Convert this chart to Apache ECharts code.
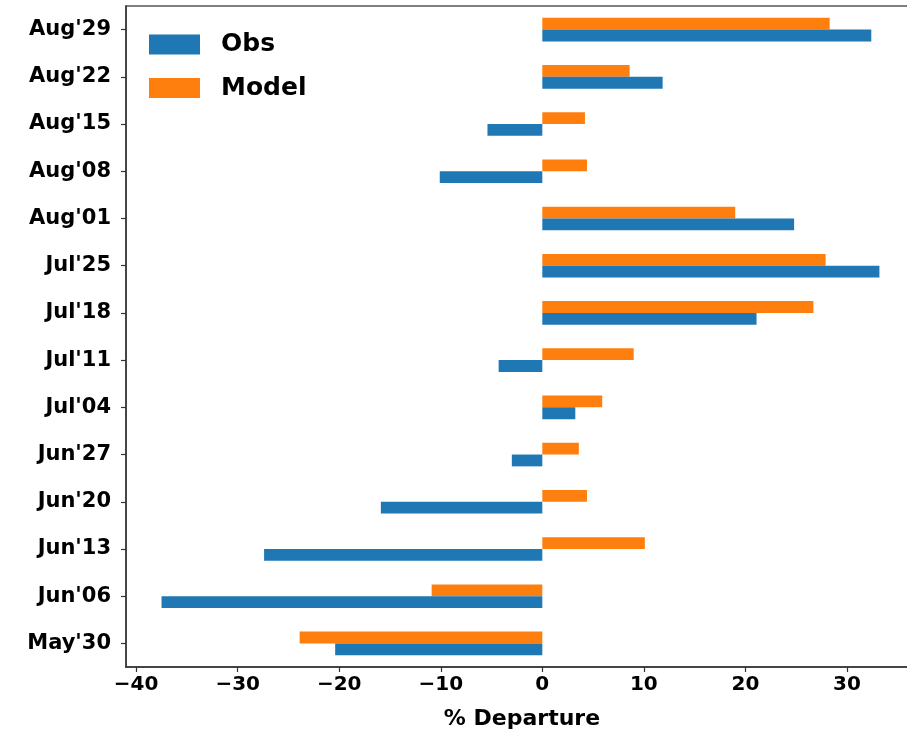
<!DOCTYPE html>
<html>
<head>
<meta charset="utf-8">
<script src="https://cdn.jsdelivr.net/npm/echarts@6/dist/echarts.min.js"></script>
<style>
html,body{margin:0;padding:0;background:#fff;overflow:hidden;width:907px;height:735px;}
#chart{width:930px;height:735px;}
</style>
</head>
<body>
<div id="chart"></div>
<script>
const categories = ["May'30","Jun'06","Jun'13","Jun'20","Jun'27","Jul'04","Jul'11","Jul'18","Jul'25","Aug'01","Aug'08","Aug'15","Aug'22","Aug'29"];
const obsValues = [-20.4,-37.5,-27.4,-15.9,-3.0,3.25,-4.3,21.1,33.2,24.8,-10.1,-5.4,11.85,32.4];
const modelValues = [-23.9,-10.9,10.1,4.4,3.6,5.9,9.0,26.7,27.9,19.0,4.4,4.2,8.6,28.3];
const xTicks = [-40,-30,-20,-10,0,10,20,30];

const font = 'DejaVu Sans';
const chart = echarts.init(document.getElementById('chart'), null, {renderer:'canvas'});
chart.setOption({
  animation:false,
  backgroundColor:'#fff',
  grid:{left:126, top:6, right:12, bottom:68, show:true, borderColor:'#555', borderWidth:1.5, containLabel:false},
  legend:{
    orient:'vertical', left:149, top:32, padding:0,
    data:['Obs','Model'],
    itemWidth:51, itemHeight:20, itemGap:18.5,
    icon:'rect',
    textStyle:{fontFamily:font, fontWeight:'bold', fontSize:25, color:'#000', lineHeight:20, padding:[0,0,0,16]}
  },
  xAxis:{
    type:'value', min:-41, max:37,
    axisLine:{show:true, onZero:false, lineStyle:{color:'#333', width:1.5}},
    axisTick:{show:true, length:5, lineStyle:{color:'#333', width:1.2}, customValues:xTicks},
    axisLabel:{fontFamily:font, fontWeight:'bold', fontSize:20, color:'#000', margin:8,
      customValues:xTicks,
      formatter:v=> (v<0?'\u2212'+Math.abs(v):String(v))},
    splitLine:{show:false},
    name:'% Departure', nameLocation:'middle', nameGap:41,
    nameTextStyle:{fontFamily:font, fontWeight:'bold', fontSize:22, color:'#000'}
  },
  yAxis:{
    type:'category', data:categories,
    axisLine:{show:true, onZero:false, lineStyle:{color:'#333', width:1.5}},
    axisTick:{show:true, length:5, alignWithLabel:true, lineStyle:{color:'#333', width:1.2}},
    axisLabel:{fontFamily:font, fontWeight:'bold', fontSize:21, color:'#000', margin:15},
    splitLine:{show:false}
  },
  series:[
    {name:'Model', type:'bar', data:modelValues, barWidth:'25%', barGap:'0%', itemStyle:{color:'#ff7f0e'}},
    {name:'Obs', type:'bar', data:obsValues, barWidth:'25%', barGap:'0%', itemStyle:{color:'#1f77b4'}}
  ]
});
</script>
</body>
</html>
